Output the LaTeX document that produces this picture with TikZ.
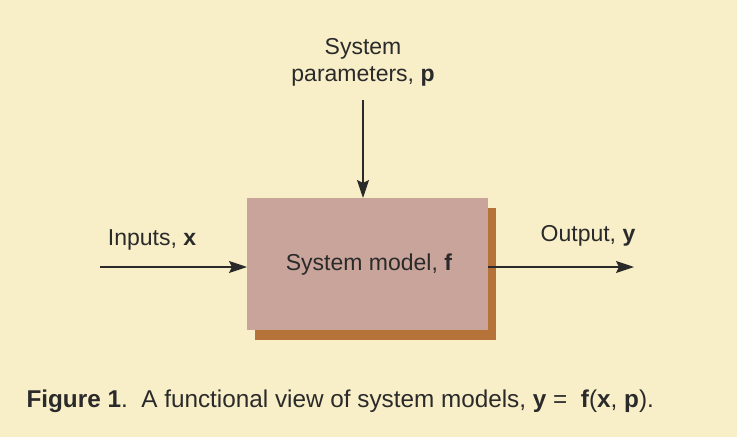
\documentclass[tikz,border=0pt]{standalone}
\usepackage{fontspec}
\setmainfont{Liberation Sans}
\usetikzlibrary{arrows.meta}
\definecolor{paper}{HTML}{F8EFC8}
\definecolor{boxfill}{HTML}{C8A49B}
\definecolor{shadowc}{HTML}{B5733A}
\definecolor{ink}{HTML}{2A2A2A}
\tikzset{
  lbl/.style={text=ink, font=\fontsize{23}{27}\selectfont, align=center},
  flow/.style={draw=ink, line width=1.4pt, -{Stealth[length=18pt,width=12pt,inset=3pt]}}
}
\begin{document}
\begin{tikzpicture}[x=1pt,y=-1pt]
                \fill[paper] (0,0) rectangle (737,437);
                \useasboundingbox (0,0) rectangle (737,437);
                \fill[shadowc] (255,208) rectangle (496,340);
                \fill[boxfill] (247,198) rectangle (488,330);
                \node[lbl] (model) at (369,265) {System model, \textbf{f}};
                \coordinate (boxN) at (363,198);
                \coordinate (boxW) at (247,267);
                \coordinate (boxE) at (488,267);
                \coordinate (inS) at (100,267);
                \coordinate (outE) at (634,267);
                \coordinate (parS) at (363,100);
                \node[lbl, inner sep=0pt] (params) at (363,62) {System\\parameters, \textbf{p}};
                \node[lbl] (inputs) at (152,240) {Inputs, \textbf{x}};
                \node[lbl] (output) at (588,236) {Output, \textbf{y}};
                \draw[flow] (parS) -- (boxN);
                \draw[flow] (inS) -- (boxW);
                \draw[flow] (boxE) -- (outE);
                \node[lbl, font=\fontsize{24.3}{28}\selectfont, anchor=west] (caption) at (23,401) {\textbf{Figure 1}.\ \ A functional view of system models, \textbf{y} =\ \ \textbf{f}(\textbf{x}, \textbf{p}).};
            \end{tikzpicture}
\end{document}
